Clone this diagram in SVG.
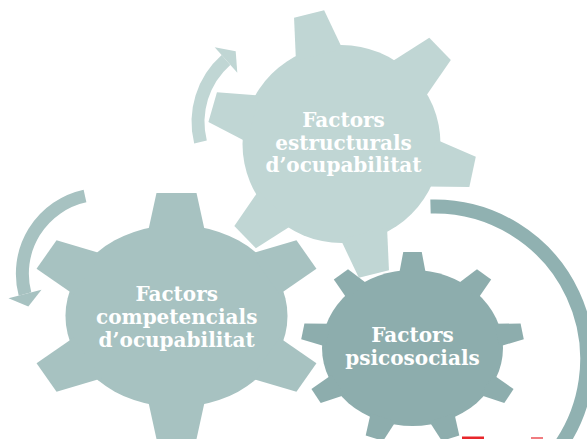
<svg xmlns="http://www.w3.org/2000/svg" xmlns:xlink="http://www.w3.org/1999/xlink" width="587" height="439" viewBox="0 0 587 439">
  <style>
    .lbl { font-family: "DejaVu Serif", "Liberation Serif", serif; font-weight: bold; font-size: 20px; fill: #FFFFFF; text-anchor: middle; }
    .g1 { fill: #C0D6D4; }
    .g2 { fill: #A7C2C1; }
    .g3 { fill: #8DADAD; }
    .arc { fill: none; stroke-linecap: butt; }
  </style>
  <defs>
    <polygon id="toothA" points="-24,-92 -15.5,-134 15.5,-134 24,-92"/>
    <polygon id="toothB" points="-23.4,-84 -16.4,-123 16.4,-123 23.4,-84"/>
    <polygon id="toothC" points="-11.5,-74 -8,-96 8,-96 11.5,-74"/>
  </defs>

  <g id="connectors">
    <path class="arc" d="M200.5,142 A82.6,82.6 0 0 1 226,60" stroke="#C0D6D4" stroke-width="13"/>
    <polygon points="214.7,47.3 237.3,72.7 235.7,51.3" fill="#C0D6D4"/>
    <path class="arc" d="M85,196 A79.5,79.5 0 0 0 25,294" stroke="#A7C2C1" stroke-width="13"/>
    <polygon points="8.5,298.3 41.5,289.7 28.3,306.6" fill="#A7C2C1"/>
    <path class="arc" d="M430.5,206.6 A152.5,152.5 0 0 1 549,460" stroke="#90B1B1" stroke-width="14"/>
  </g>

  <g id="gear-estructurals">
    <g class="g1" transform="translate(341.5 144)">
      <circle r="99"/>
      <use xlink:href="#toothA" transform="rotate(-14)"/>
      <use xlink:href="#toothA" transform="rotate(46) translate(0 -3)"/>
      <use xlink:href="#toothA" transform="rotate(102)"/>
      <use xlink:href="#toothA" transform="rotate(166)"/>
      <use xlink:href="#toothA" transform="rotate(226)"/>
      <use xlink:href="#toothA" transform="rotate(286)"/>
    </g>
    <text class="lbl"><tspan x="343.5" y="127.3">Factors</tspan><tspan x="343.5" y="149.5">estructurals</tspan><tspan x="343.5" y="171.7">d’ocupabilitat</tspan></text>
  </g>

  <g id="gear-competencials">
    <g class="g2" transform="translate(176.5 316) scale(1.22 1)">
      <circle r="91"/>
      <use xlink:href="#toothB" transform="rotate(0)"/>
      <use xlink:href="#toothB" transform="rotate(60)"/>
      <use xlink:href="#toothB" transform="rotate(120)"/>
      <use xlink:href="#toothB" transform="rotate(180)"/>
      <use xlink:href="#toothB" transform="rotate(240)"/>
      <use xlink:href="#toothB" transform="rotate(300)"/>
    </g>
    <text class="lbl"><tspan x="176.7" y="300.7">Factors</tspan><tspan x="176.7" y="323.7">competencials</tspan><tspan x="176.7" y="346.7">d’ocupabilitat</tspan></text>
  </g>

  <g id="gear-psicosocials">
    <g class="g3" transform="translate(412.5 348) scale(1.16 1)">
      <circle r="78"/>
      <use xlink:href="#toothC" transform="rotate(0)"/>
      <use xlink:href="#toothC" transform="rotate(40)"/>
      <use xlink:href="#toothC" transform="rotate(80)"/>
      <use xlink:href="#toothC" transform="rotate(120)"/>
      <use xlink:href="#toothC" transform="rotate(160)"/>
      <use xlink:href="#toothC" transform="rotate(200)"/>
      <use xlink:href="#toothC" transform="rotate(240)"/>
      <use xlink:href="#toothC" transform="rotate(280)"/>
      <use xlink:href="#toothC" transform="rotate(320)"/>
    </g>
    <text class="lbl"><tspan x="412.5" y="341.7">Factors</tspan><tspan x="412.5" y="365">psicosocials</tspan></text>
  </g>

  <rect x="462" y="436.5" width="22" height="3" fill="#E8262B"/>
  <rect x="531" y="437" width="12" height="2" fill="#F07C80"/>
</svg>
